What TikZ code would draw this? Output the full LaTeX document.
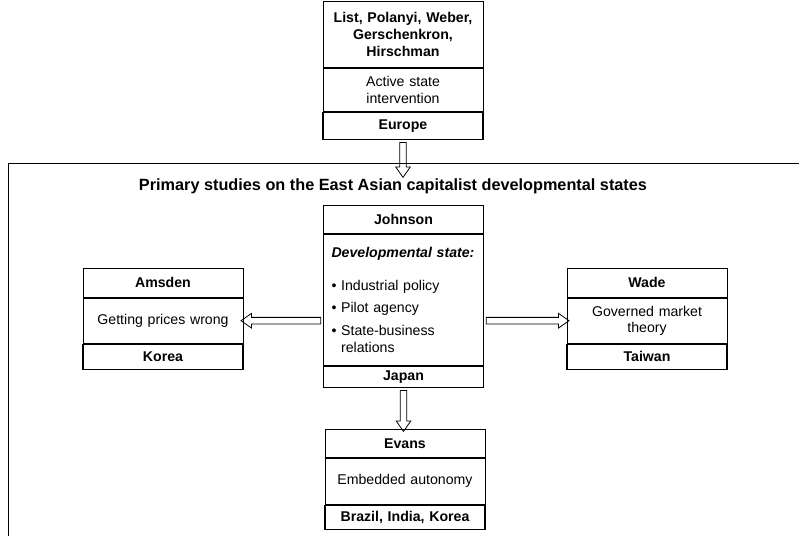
\documentclass[tikz,border=0pt]{standalone}
\usepackage{fontspec}
\setmainfont{Liberation Sans}
\usetikzlibrary{positioning,shapes.arrows,calc}
\tikzset{
  cell/.style={draw, line width=0.6pt, minimum width=120pt, text width=114pt, align=center, inner sep=3pt, font=\fontsize{10.6}{12.5}\selectfont},
  headcell/.style={cell, font=\fontsize{10.6}{12.5}\selectfont\bfseries},
  footcell/.style={headcell, line width=1.1pt},
  harrow/.style={single arrow, draw, line width=0.6pt, inner sep=0pt, inner ysep=2.2pt, minimum width=0pt, single arrow head extend=3pt, single arrow tip angle=70, sloped, allow upside down, anchor=center}
}
\newcommand{\hollowarrow}[2]{\path let \p1=(#1), \p2=(#2), \n1={veclen(\x2-\x1,\y2-\y1)} in (\p1) -- (\p2) node[midway, harrow, minimum height=\n1] {};}
\begin{document}
\begin{tikzpicture}[x=0.75pt, y=-0.75pt]
\useasboundingbox (0,0) rectangle (799,536);
% frame of the East Asian studies
\draw[line width=0.6pt] (8,536) -- (8,163) -- (799,163);
\node[font=\fontsize{12.2}{14}\selectfont\bfseries] (title) at (393,186) {Primary studies on the East Asian capitalist developmental states};
% Europe
\node[headcell, minimum height=49.5pt, anchor=north] (thead) at (403,1) {List, Polanyi, Weber,\\ Gerschenkron,\\ Hirschman};
\node[cell, minimum height=32.25pt, below=0pt of thead] (tbody) {Active state\\ intervention};
\node[footcell, minimum height=20.25pt, below=0pt of tbody] (tfoot) {Europe};
% Johnson
\node[headcell, minimum height=21pt, anchor=north] (jhead) at (403.5,205) {Johnson};
\node[cell, minimum height=98.25pt, below=0pt of jhead, align=left, inner xsep=4pt, text width=112pt] (jbody) {\hspace{2pt}\textbf{\textit{Developmental state:}}\\[12pt]
  \hspace{2pt}• Industrial policy\\[4.5pt]
  \hspace{2pt}• Pilot agency\\[4.5pt]
  \hspace{2pt}• State-business\\
  \hspace{2pt}\phantom{• }relations};
\node[footcell, minimum height=15.75pt, below=0pt of jbody] (jfoot) {Japan};
% Amsden
\node[headcell, minimum height=21.75pt, anchor=north] (ahead) at (163,268) {Amsden};
\node[cell, minimum height=33.75pt, below=0pt of ahead] (abody) {Getting prices wrong};
\node[footcell, minimum height=18.75pt, below=0pt of abody] (afoot) {Korea};
% Wade
\node[headcell, minimum height=21.75pt, anchor=north] (whead) at (647,268) {Wade};
\node[cell, minimum height=33.75pt, below=0pt of whead] (wbody) {Governed market\\ theory};
\node[footcell, minimum height=18.75pt, below=0pt of wbody] (wfoot) {Taiwan};
% Evans
\node[headcell, minimum height=21pt, anchor=north] (ehead) at (405,429) {Evans};
\node[cell, minimum height=34.5pt, below=0pt of ehead] (ebody) {Embedded autonomy};
\node[footcell, minimum height=18pt, below=0pt of ebody] (efoot) {Brazil, India, Korea};
% arrows
\coordinate (entry) at (403,175);
\hollowarrow{tfoot.south}{entry}
\hollowarrow{jbody.west |- abody.east}{abody.east}
\hollowarrow{jbody.east |- wbody.west}{wbody.west}
\hollowarrow{jfoot.south}{jfoot.south |- ehead.north}
\end{tikzpicture}
\end{document}
